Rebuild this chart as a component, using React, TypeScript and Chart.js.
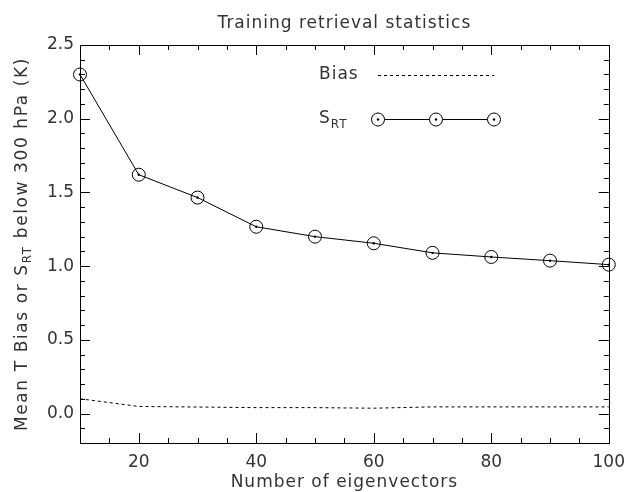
import React, { useEffect, useRef } from "react";
import { Chart, registerables } from "chart.js";

Chart.register(...registerables);

const eigenvectors = [10, 20, 30, 40, 50, 60, 70, 80, 90, 100];
const srtValues = [2.30, 1.62, 1.465, 1.267, 1.20, 1.155, 1.09, 1.062, 1.037, 1.01];
const biasValues = [0.10, 0.048, 0.044, 0.040, 0.040, 0.036, 0.045, 0.045, 0.045, 0.045];

const TITLE = "Training retrieval statistics";
const X_TITLE = "Number of eigenvectors";
const Y_TITLE_PRE = "Mean T Bias or S";
const Y_TITLE_SUB = "RT";
const Y_TITLE_POST = " below 300 hPa (K)";
const LEGEND_BIAS = "Bias";
const LEGEND_S = "S";
const LEGEND_SUB = "RT";

const FONT = "DejaVu Sans";
const TEXT_COLOR = "#333";

const decorPlugin = {
  id: "decor",
  afterDraw(chart: any) {
    const ctx = chart.ctx as any;
    const a = chart.chartArea;
    const xs = chart.scales.x;
    const ys = chart.scales.y;
    ctx.save();
    ctx.strokeStyle = "#000";
    ctx.lineWidth = 1;
    // frame
    ctx.strokeRect(Math.round(a.left) + 0.5, Math.round(a.top) + 0.5, Math.round(a.right - a.left), Math.round(a.bottom - a.top));
    // ticks
    ctx.beginPath();
    for (let v = 15; v <= 100; v += 5) {
      const px = Math.round(xs.getPixelForValue(v)) + 0.5;
      const len = v % 20 === 0 ? 10 : 5;
      ctx.moveTo(px, a.bottom);
      ctx.lineTo(px, a.bottom - len);
      ctx.moveTo(px, a.top);
      ctx.lineTo(px, a.top + len);
    }
    for (let i = -2; i <= 25; i++) {
      const v = i / 10;
      const py = Math.round(ys.getPixelForValue(v)) + 0.5;
      const len = i % 5 === 0 ? 10 : 5;
      ctx.moveTo(a.left, py);
      ctx.lineTo(a.left + len, py);
      ctx.moveTo(a.right, py);
      ctx.lineTo(a.right - len, py);
    }
    ctx.stroke();

    const bigFont = `17px '${FONT}'`;
    const subFont = `12px '${FONT}'`;

    // titles
    ctx.fillStyle = TEXT_COLOR;
    ctx.font = bigFont;
    ctx.letterSpacing = "1px";
    ctx.textAlign = "center";
    ctx.textBaseline = "alphabetic";
    const cx = (a.left + a.right) / 2;
    ctx.fillText(TITLE, cx, 28);
    ctx.fillText(X_TITLE, cx, 487);

    // y title rotated with subscript
    ctx.letterSpacing = "1.6px";
    ctx.font = bigFont;
    const w1 = ctx.measureText(Y_TITLE_PRE).width;
    const w3 = ctx.measureText(Y_TITLE_POST).width;
    ctx.font = subFont;
    const w2 = ctx.measureText(Y_TITLE_SUB).width;
    const total = w1 + w2 + w3;
    const cy = (a.top + a.bottom) / 2;
    ctx.translate(27, cy);
    ctx.rotate(-Math.PI / 2);
    ctx.textAlign = "left";
    let x0 = -total / 2;
    ctx.font = bigFont;
    ctx.fillText(Y_TITLE_PRE, x0, 0);
    x0 += w1;
    ctx.font = subFont;
    ctx.fillText(Y_TITLE_SUB, x0, 4);
    x0 += w2;
    ctx.font = bigFont;
    ctx.fillText(Y_TITLE_POST, x0, 0);
    ctx.setTransform(1, 0, 0, 1, 0, 0);

    // legend
    ctx.letterSpacing = "1px";
    const lx = a.left + 239;
    const ly1 = a.top + 30;
    const ly2 = a.top + 74;
    ctx.font = bigFont;
    ctx.textAlign = "left";
    ctx.textBaseline = "middle";
    ctx.fillText(LEGEND_BIAS, lx, ly1);
    ctx.fillText(LEGEND_S, lx, ly2);
    const sw = ctx.measureText(LEGEND_S).width;
    ctx.font = subFont;
    ctx.fillText(LEGEND_SUB, lx + sw, ly2 + 6);
    ctx.letterSpacing = "0px";
    const s0 = a.left + 298;
    const s1 = a.left + 414;
    ctx.beginPath();
    ctx.setLineDash([3, 3]);
    ctx.moveTo(s0, ly1 + 0.5);
    ctx.lineTo(s1, ly1 + 0.5);
    ctx.stroke();
    ctx.setLineDash([]);
    ctx.beginPath();
    ctx.moveTo(s0, ly2 + 0.5);
    ctx.lineTo(s1, ly2 + 0.5);
    ctx.stroke();
    for (const sx of [s0, (s0 + s1) / 2, s1]) {
      ctx.beginPath();
      ctx.fillStyle = "#fff";
      ctx.arc(sx, ly2 + 0.5, 6.5, 0, Math.PI * 2);
      ctx.fill();
      ctx.stroke();
      ctx.beginPath();
      ctx.fillStyle = "#000";
      ctx.arc(sx, ly2 + 0.5, 1.2, 0, Math.PI * 2);
      ctx.fill();
    }
    ctx.restore();
  },
};

export default function App() {
  const ref = useRef<HTMLCanvasElement | null>(null);
  useEffect(() => {
    if (!ref.current) return;
    const srtPts = eigenvectors.map((x, i) => ({ x, y: srtValues[i] }));
    const biasPts = eigenvectors.map((x, i) => ({ x, y: biasValues[i] }));
    const chart = new Chart(ref.current, {
      type: "line",
      data: {
        datasets: [
          {
            label: "Bias",
            data: biasPts,
            borderColor: "#000",
            borderWidth: 1,
            borderDash: [3, 3],
            pointRadius: 0,
            fill: false,
            tension: 0,
            clip: false as any,
          },
          {
            label: "SRT",
            data: srtPts,
            borderColor: "#000",
            borderWidth: 1,
            backgroundColor: "rgba(255,255,255,0)",
            pointRadius: 6.5,
            pointBorderWidth: 1,
            pointBorderColor: "#000",
            pointBackgroundColor: "rgba(255,255,255,0)",
            fill: false,
            tension: 0,
            clip: false as any,
          },
          {
            label: "SRT centers",
            data: srtPts,
            showLine: false,
            pointRadius: 1.2,
            pointBorderWidth: 0,
            pointBackgroundColor: "#000",
            borderColor: "#000",
            clip: false as any,
          },
        ],
      },
      options: {
        animation: false,
        responsive: false,
        events: [],
        layout: { padding: { left: 0, right: 21, top: 45, bottom: 0 } },
        plugins: { legend: { display: false }, title: { display: false }, tooltip: { enabled: false } },
        scales: {
          x: {
            type: "linear",
            min: 10,
            max: 100,
            grid: { display: false, drawTicks: false },
            border: { display: false },
            ticks: {
              stepSize: 5,
              autoSkip: false,
              maxRotation: 0,
              padding: 9,
              color: TEXT_COLOR,
              font: { family: FONT, size: 17 },
              callback: (v: any) => (Number(v) % 20 === 0 ? String(v) : ""),
            },
            afterFit: (s: any) => {
              s.height = 49;
            },
          },
          y: {
            type: "linear",
            min: -0.2,
            max: 2.5,
            grid: { display: false, drawTicks: false },
            border: { display: false },
            ticks: {
              stepSize: 0.1,
              autoSkip: false,
              padding: 6,
              color: TEXT_COLOR,
              font: { family: FONT, size: 17 },
              callback: (v: any) => {
                const n = Number(v);
                const r = Math.round(n * 2);
                if (Math.abs(n * 2 - r) > 1e-6) return "";
                const val = r / 2;
                return (Math.abs(val) < 1e-9 ? 0 : val).toFixed(1);
              },
            },
            afterFit: (s: any) => {
              s.width = 80;
            },
          },
        },
      },
      plugins: [decorPlugin],
    });
    return () => chart.destroy();
  }, []);
  return (
    <div style={{ position: "absolute", left: 0, top: 0, width: 634, height: 492, background: "#fff" }}>
      <canvas ref={ref} width={634} height={492} style={{ width: 634, height: 492, display: "block" }} />
    </div>
  );
}
